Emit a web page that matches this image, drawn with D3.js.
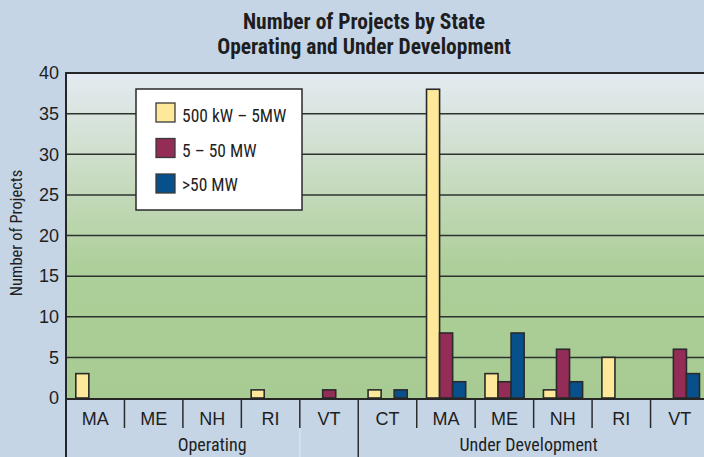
<!DOCTYPE html>
<html><head><meta charset="utf-8">
<script src="https://cdn.jsdelivr.net/npm/d3@7"></script>
<style>
html,body{margin:0;padding:0;background:#c5d5e6;}
svg{display:block;}
text{font-family:"Liberation Sans Narrow","Arial Narrow","Roboto Condensed","Liberation Sans",sans-serif;fill:#1e1e1e;}
</style></head><body>
<script>
const title = ["Number of Projects by State", "Operating and Under Development"];
const groups = ["Operating", "Under Development"];
const categories = [
  {group:"Operating", state:"MA"},
  {group:"Operating", state:"ME"},
  {group:"Operating", state:"NH"},
  {group:"Operating", state:"RI"},
  {group:"Operating", state:"VT"},
  {group:"Under Development", state:"CT"},
  {group:"Under Development", state:"MA"},
  {group:"Under Development", state:"ME"},
  {group:"Under Development", state:"NH"},
  {group:"Under Development", state:"RI"},
  {group:"Under Development", state:"VT"}
];
const seriesNames = ["500 kW \u2013 5MW", "5 \u2013 50 MW", ">50 MW"];
const small  = [3, 0, 0, 1, 0, 1, 38, 3, 1, 5, 0];
const medium = [0, 0, 0, 0, 1, 0, 8, 2, 6, 0, 6];
const large  = [0, 0, 0, 0, 0, 1, 2, 8, 2, 0, 3];
const yTicks = [0, 5, 10, 15, 20, 25, 30, 35, 40];
const colors = ["#fee99b", "#932c56", "#07508b"];

const W = 704, H = 457;
const FONT = '"Liberation Sans Narrow","Arial Narrow",sans-serif';
const svg = d3.select("body").append("svg").attr("width", W).attr("height", H);
svg.append("rect").attr("width", W).attr("height", H).attr("fill", "#c5d5e6");

const m = {left:66, top:73, bottom:398, right:709};
const keys = categories.map((d,i)=>i);
const x = d3.scaleBand().domain(keys).range([m.left, m.right]).padding(0);
const y = d3.scaleLinear().domain([0, 40]).range([m.bottom, m.top]);
const inset = 9.8;
const xs = d3.scaleBand().domain([0,1,2]).range([inset, x.bandwidth() - inset + 0.3]).padding(0);

const defs = svg.append("defs");
const grad = defs.append("linearGradient").attr("id","bg").attr("x1",0).attr("y1",0).attr("x2",0).attr("y2",1);
grad.append("stop").attr("offset","0%").attr("stop-color","#e4eaf2");
grad.append("stop").attr("offset","25%").attr("stop-color","#cfdfcc");
grad.append("stop").attr("offset","60%").attr("stop-color","#adcf99");
grad.append("stop").attr("offset","100%").attr("stop-color","#a7cb92");

svg.append("rect").attr("x", m.left).attr("y", m.top).attr("width", m.right - m.left).attr("height", m.bottom - m.top).attr("fill","url(#bg)");

// gridlines
svg.append("g").selectAll("line").data(yTicks.filter(t=>t>0 && t<40)).join("line")
  .attr("x1", m.left).attr("x2", m.right).attr("y1", d=>y(d)).attr("y2", d=>y(d))
  .attr("stroke", "#2f3330").attr("stroke-width", 1.5);

// y axis
const yAxis = svg.append("g").attr("transform", `translate(${m.left},0)`)
  .call(d3.axisLeft(y).tickValues(yTicks).tickSize(0).tickPadding(7));
yAxis.select(".domain").remove();
yAxis.selectAll("text").attr("font-size", 18).attr("fill","#1e1e1e").style("font-family", FONT);

// bars
const series = [small, medium, large];
const gBars = svg.append("g");
series.forEach((vals, si) => {
  gBars.selectAll(null).data(vals.map((v,i)=>({v,i})).filter(d => d.v > 0)).join("rect")
    .attr("x", d => x(d.i) + xs(si))
    .attr("y", d => y(d.v))
    .attr("width", xs.bandwidth())
    .attr("height", d => y(0) - y(d.v))
    .attr("fill", colors[si])
    .attr("stroke", "#2a2a2a").attr("stroke-width", 1.6);
});

// frame: top, left and bottom axis
svg.append("line").attr("x1", m.left).attr("x2", W).attr("y1", m.top).attr("y2", m.top).attr("stroke","#262626").attr("stroke-width",2.2);
svg.append("line").attr("x1", m.left).attr("x2", m.left).attr("y1", m.top-1).attr("y2", H).attr("stroke","#262626").attr("stroke-width",2);
svg.append("line").attr("x1", m.left).attr("x2", W).attr("y1", m.bottom+1).attr("y2", m.bottom+1).attr("stroke","#262626").attr("stroke-width",2.2);

// x axis category labels
const xAxis = svg.append("g").attr("transform", `translate(0,${m.bottom})`)
  .call(d3.axisBottom(x).tickSize(0).tickPadding(14).tickFormat(i => categories[i].state));
xAxis.select(".domain").remove();
xAxis.selectAll("text").attr("font-size", 18).attr("fill","#1e1e1e").style("font-family", FONT);

// category separators
const sepIdx = keys.slice(1);
svg.append("g").selectAll("line").data(sepIdx).join("line")
  .attr("x1", d=>x(d)).attr("x2", d=>x(d))
  .attr("y1", m.bottom).attr("y2", d => categories[d].group !== categories[d-1].group ? H : 428)
  .attr("stroke", "#2b2b2b").attr("stroke-width", 1.5);
// faint continuation line
svg.append("g").selectAll("line").data([4]).join("line")
  .attr("x1", d=>x(d)).attr("x2", d=>x(d)).attr("y1", 428).attr("y2", H)
  .attr("stroke", "#dfe8f1").attr("stroke-width", 1);

// group labels
groups.forEach(g => {
  const idx = keys.filter(i => categories[i].group === g);
  const x0 = x(idx[0]), x1 = x(idx[idx.length-1]) + x.bandwidth();
  svg.append("text").attr("x", g === "Operating" ? (x0 + x1)/2 : (x0 + x1)/2 - 5)
    .attr("y", 451).attr("text-anchor","middle").attr("font-size", 18).text(g);
});

// title
svg.append("text").attr("x", 364).attr("y", 29).attr("text-anchor","middle")
  .attr("font-size", 21.5).attr("font-weight","bold").text(title[0]);
svg.append("text").attr("x", 364).attr("y", 54).attr("text-anchor","middle")
  .attr("font-size", 21.5).attr("font-weight","bold").text(title[1]);

// y-axis title
svg.append("text").attr("transform", `translate(22,233) rotate(-90)`).attr("text-anchor","middle")
  .attr("font-size", 16.5).text("Number of Projects");

// legend
const lg = svg.append("g").attr("transform","translate(136,89)");
lg.append("rect").attr("width", 166).attr("height", 121).attr("fill","#fff").attr("stroke","#2a2a2a").attr("stroke-width",1.5);
seriesNames.forEach((n, i) => {
  lg.append("rect").attr("x", 20).attr("y", 14 + i*35.5).attr("width", 19).attr("height", 19)
    .attr("fill", colors[i]).attr("stroke","#3a3a3a").attr("stroke-width",1.3);
  lg.append("text").attr("x", 46).attr("y", 33 + i*34.5).attr("font-size", 17.5).text(n);
});
</script>
</body></html>
